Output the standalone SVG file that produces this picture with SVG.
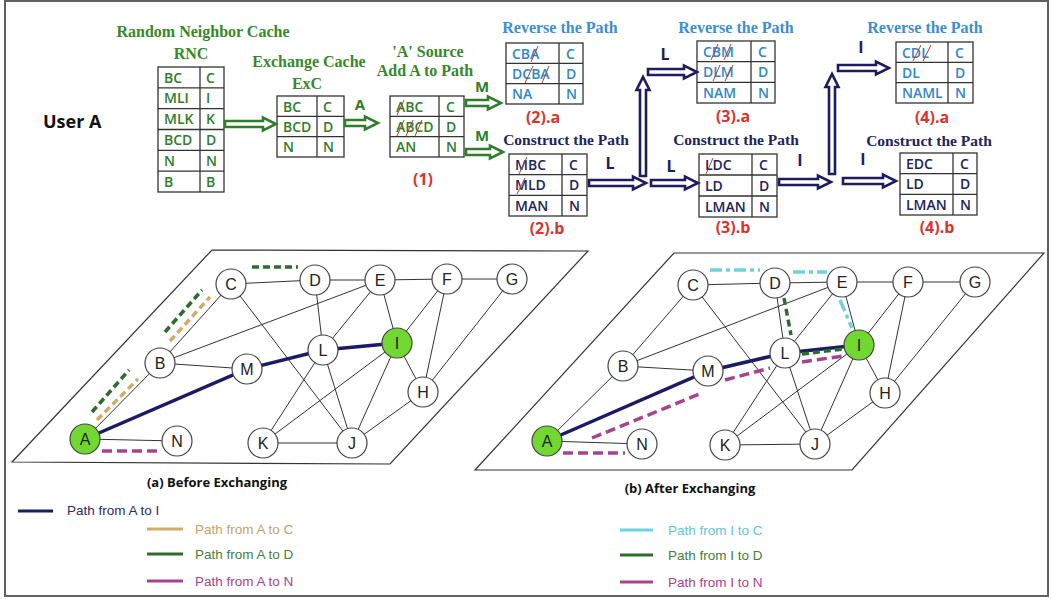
<svg xmlns="http://www.w3.org/2000/svg" width="1052" height="599" viewBox="0 0 1052 599">
<style>
.tg{font-family:"Liberation Serif",serif;font-weight:bold;font-size:16px;fill:#35892b;text-anchor:middle}
.tb{font-family:"Liberation Serif",serif;font-weight:bold;font-size:16px;fill:#3b8ed4;text-anchor:middle}
.tn{font-family:"Liberation Serif",serif;font-weight:bold;font-size:15.5px;fill:#22225e;text-anchor:middle}
.c{font-family:"Open Sans","Liberation Sans",sans-serif;font-weight:600;font-size:14px}
.cg{fill:#2f7d2a}.cb{fill:#2f86cc}.cn{fill:#22225e}
.tbl{fill:#fff;stroke:#333;stroke-width:1.3}
.tl{stroke:#333;stroke-width:1.3}
.sl{stroke:#c0392b;stroke-width:1}
.red{font-family:"Open Sans","Liberation Sans",sans-serif;font-weight:bold;font-size:16px;fill:#d9342b;text-anchor:middle}
.lblg{font-family:"Open Sans","Liberation Sans",sans-serif;font-weight:bold;font-size:15px;fill:#2f7d2a;text-anchor:middle}
.lbln{font-family:"Open Sans","Liberation Sans",sans-serif;font-weight:bold;font-size:16px;fill:#1c1c5e;text-anchor:middle}
.ag{fill:#fff;stroke:#2f7d2a;stroke-width:2.6}
.an{fill:#fff;stroke:#1c1c5e;stroke-width:2.6}
.e{stroke:#333;stroke-width:1}
.nav{stroke:#1c1c64;stroke-width:3.5;stroke-linecap:round}
.nd circle{fill:#fff;stroke:#444;stroke-width:1.2}
.nd circle.gr{fill:#72d831}
.nd text{font-family:"Liberation Sans",Arial,sans-serif;font-size:16px;fill:#222;text-anchor:middle}
.dt{stroke:#d4aa6a;stroke-width:3.5;stroke-dasharray:7 4;fill:none}
.dg{stroke:#2e6b2e;stroke-width:3.5;stroke-dasharray:7 4;fill:none}
.dm{stroke:#a8428e;stroke-width:3.5;stroke-dasharray:10 5;fill:none}
.dc{stroke:#6dd3dd;stroke-width:3.5;stroke-dasharray:12 4 4 4;fill:none}
.leg{font-family:"Liberation Sans",Arial,sans-serif;font-size:13.5px}
.cap{font-family:"Open Sans","Liberation Sans",sans-serif;font-weight:bold;font-size:13px;fill:#111;text-anchor:middle}
.ua{font-family:"Open Sans","Liberation Sans",sans-serif;font-weight:bold;font-size:18px;fill:#111}
.pg{fill:none;stroke:#333;stroke-width:1.2}
</style>
<rect x="5" y="1" width="1043" height="595" fill="#fff" stroke="#606060" stroke-width="2"/>

<text class="ua" x="43" y="128">User A</text>

<!-- titles -->
<text class="tg" x="203" y="37">Random Neighbor Cache</text>
<text class="tg" x="191" y="59">RNC</text>
<text class="tg" x="309" y="67">Exchange Cache</text>
<text class="tg" x="307" y="89">ExC</text>
<text class="tg" x="428" y="57">'A' Source</text>
<text class="tg" x="425" y="76">Add A to Path</text>
<text class="tb" x="560" y="33">Reverse the Path</text>
<text class="tn" x="566" y="145">Construct the Path</text>
<text class="tb" x="736" y="33">Reverse the Path</text>
<text class="tn" x="736" y="145">Construct the Path</text>
<text class="tb" x="925" y="33">Reverse the Path</text>
<text class="tn" x="929" y="146">Construct the Path</text>

<text class="red" x="423" y="185">(1)</text>
<text class="red" x="543" y="123">(2).a</text>
<text class="red" x="547" y="234">(2).b</text>
<text class="red" x="733" y="122">(3).a</text>
<text class="red" x="733" y="233">(3).b</text>
<text class="red" x="932" y="123">(4).a</text>
<text class="red" x="937" y="233">(4).b</text>

<!-- tables -->
<g id="rnc">
<rect class="tbl" x="158" y="67" width="66" height="125"/>
<line class="tl" x1="200" y1="67" x2="200" y2="192"/>
<line class="tl" x1="158" y1="87.8" x2="224" y2="87.8"/>
<line class="tl" x1="158" y1="108.7" x2="224" y2="108.7"/>
<line class="tl" x1="158" y1="129.5" x2="224" y2="129.5"/>
<line class="tl" x1="158" y1="150.3" x2="224" y2="150.3"/>
<line class="tl" x1="158" y1="171.2" x2="224" y2="171.2"/>
<g class="c cg">
<text x="164" y="82.5">BC</text><text x="206" y="82.5">C</text>
<text x="164" y="103.3">MLI</text><text x="206" y="103.3">I</text>
<text x="164" y="124.2">MLK</text><text x="206" y="124.2">K</text>
<text x="164" y="145">BCD</text><text x="206" y="145">D</text>
<text x="164" y="165.8">N</text><text x="206" y="165.8">N</text>
<text x="164" y="186.7">B</text><text x="206" y="186.7">B</text>
</g>
</g>

<g id="exc">
<rect class="tbl" x="277" y="96" width="67" height="61"/>
<line class="tl" x1="317" y1="96" x2="317" y2="157"/>
<line class="tl" x1="277" y1="116.3" x2="344" y2="116.3"/>
<line class="tl" x1="277" y1="136.7" x2="344" y2="136.7"/>
<g class="c cg">
<text x="283" y="111.5">BC</text><text x="323" y="111.5">C</text>
<text x="283" y="132">BCD</text><text x="323" y="132">D</text>
<text x="283" y="152">N</text><text x="323" y="152">N</text>
</g>
</g>

<g id="t1">
<rect class="tbl" x="390" y="96" width="74" height="61"/>
<line class="tl" x1="439" y1="96" x2="439" y2="157"/>
<line class="tl" x1="390" y1="116.3" x2="464" y2="116.3"/>
<line class="tl" x1="390" y1="136.7" x2="464" y2="136.7"/>
<g class="c cg">
<text x="396" y="111.5">ABC</text><text x="446" y="111.5">C</text>
<text x="396" y="132">ABCD</text><text x="446" y="132">D</text>
<text x="396" y="152">AN</text><text x="446" y="152">N</text>
</g>
<line class="sl" x1="397" y1="115" x2="404" y2="100"/>
<line class="sl" x1="397" y1="136" x2="404" y2="120"/>
<line class="sl" x1="406" y1="136" x2="413" y2="120"/>
<line class="sl" x1="415" y1="136" x2="422" y2="120"/>
</g>

<g id="t2a">
<rect class="tbl" x="506" y="43" width="77" height="61"/>
<line class="tl" x1="559" y1="43" x2="559" y2="104"/>
<line class="tl" x1="506" y1="63.3" x2="583" y2="63.3"/>
<line class="tl" x1="506" y1="83.7" x2="583" y2="83.7"/>
<g class="c cb">
<text x="512" y="58.5">CBA</text><text x="566" y="58.5">C</text>
<text x="512" y="79">DCBA</text><text x="566" y="79">D</text>
<text x="512" y="99">NA</text><text x="566" y="99">N</text>
</g>
<line class="sl" x1="531" y1="62" x2="538" y2="46"/>
<line class="sl" x1="525" y1="83" x2="533" y2="66"/>
<line class="sl" x1="542" y1="83" x2="549" y2="66"/>
</g>

<g id="t2b">
<rect class="tbl" x="509" y="154" width="78" height="62"/>
<line class="tl" x1="562" y1="154" x2="562" y2="216"/>
<line class="tl" x1="509" y1="174.7" x2="587" y2="174.7"/>
<line class="tl" x1="509" y1="195.3" x2="587" y2="195.3"/>
<g class="c cn">
<text x="515" y="169.5">MBC</text><text x="569" y="169.5">C</text>
<text x="515" y="190">MLD</text><text x="569" y="190">D</text>
<text x="515" y="210.5">MAN</text><text x="569" y="210.5">N</text>
</g>
<line class="sl" x1="519" y1="174" x2="527" y2="157"/>
<line class="sl" x1="517" y1="194" x2="525" y2="178"/>
</g>

<g id="t3a">
<rect class="tbl" x="697" y="41" width="78" height="62"/>
<line class="tl" x1="751" y1="41" x2="751" y2="103"/>
<line class="tl" x1="697" y1="61.7" x2="775" y2="61.7"/>
<line class="tl" x1="697" y1="82.3" x2="775" y2="82.3"/>
<g class="c cb">
<text x="703" y="56.5">CBM</text><text x="758" y="56.5">C</text>
<text x="703" y="77">DLM</text><text x="758" y="77">D</text>
<text x="703" y="97.5">NAM</text><text x="758" y="97.5">N</text>
</g>
<line class="sl" x1="711" y1="60" x2="718" y2="44"/>
<line class="sl" x1="724" y1="60" x2="731" y2="44"/>
<line class="sl" x1="713" y1="81" x2="720" y2="65"/>
<line class="sl" x1="725" y1="81" x2="733" y2="65"/>
</g>

<g id="t3b">
<rect class="tbl" x="699" y="154" width="78" height="63"/>
<line class="tl" x1="752" y1="154" x2="752" y2="217"/>
<line class="tl" x1="699" y1="175" x2="777" y2="175"/>
<line class="tl" x1="699" y1="196" x2="777" y2="196"/>
<g class="c cn">
<text x="705" y="169.5">LDC</text><text x="759" y="169.5">C</text>
<text x="705" y="190.5">LD</text><text x="759" y="190.5">D</text>
<text x="705" y="211.5">LMAN</text><text x="759" y="211.5">N</text>
</g>
<line class="sl" x1="706" y1="174" x2="713" y2="158"/>
</g>

<g id="t4a">
<rect class="tbl" x="896" y="42" width="77" height="61"/>
<line class="tl" x1="948" y1="42" x2="948" y2="103"/>
<line class="tl" x1="896" y1="62.3" x2="973" y2="62.3"/>
<line class="tl" x1="896" y1="82.7" x2="973" y2="82.7"/>
<g class="c cb">
<text x="902" y="57.5">CDL</text><text x="955" y="57.5">C</text>
<text x="902" y="78">DL</text><text x="955" y="78">D</text>
<text x="902" y="98">NAML</text><text x="955" y="98">N</text>
</g>
<line class="sl" x1="913" y1="61" x2="921" y2="45"/>
<line class="sl" x1="923" y1="61" x2="931" y2="45"/>
</g>

<g id="t4b">
<rect class="tbl" x="900" y="153" width="77" height="62"/>
<line class="tl" x1="953" y1="153" x2="953" y2="215"/>
<line class="tl" x1="900" y1="173.7" x2="977" y2="173.7"/>
<line class="tl" x1="900" y1="194.3" x2="977" y2="194.3"/>
<g class="c cn">
<text x="906" y="168.5">EDC</text><text x="960" y="168.5">C</text>
<text x="906" y="189">LD</text><text x="960" y="189">D</text>
<text x="906" y="209.5">LMAN</text><text x="960" y="209.5">N</text>
</g>
</g>

<!-- top connectors -->
<g id="top-connectors">
<polygon class="ag" points="225,121 263,121 263,117.5 276,124 263,130.5 263,127 225,127"/>
<polygon class="ag" points="345,120 365,120 365,116.5 378,123 365,129.5 365,126 345,126"/>
<polygon class="ag" points="466,100 488,100 488,96.5 501,103 488,109.5 488,106 466,106"/>
<polygon class="ag" points="466,149 490,149 490,145.5 503,152 490,158.5 490,155 466,155"/>
<polygon class="an" points="589,180 633,180 633,176.5 646,183 633,189.5 633,186 589,186"/>
<polygon class="an" points="640,176 640,90 636.5,90 643,77 649.5,90 646,90 646,176"/>
<polygon class="an" points="648,69 684,69 684,65.5 697,72 684,78.5 684,75 648,75"/>
<polygon class="an" points="651,180 685,180 685,176.5 698,183 685,189.5 685,186 651,186"/>
<polygon class="an" points="779,179 818,179 818,175.5 831,182 818,188.5 818,185 779,185"/>
<polygon class="an" points="829,174 829,87 825.5,87 832,74 838.5,87 835,87 835,174"/>
<polygon class="an" points="838,65 876,65 876,61.5 889,68 876,74.5 876,71 838,71"/>
<polygon class="an" points="843,178 883,178 883,174.5 896,181 883,187.5 883,184 843,184"/>
<text class="lblg" x="360" y="110">A</text>
<text class="lblg" x="482" y="92">M</text>
<text class="lblg" x="482" y="141">M</text>
<text class="lbln" x="610" y="169">L</text>
<text class="lbln" x="665" y="60">L</text>
<text class="lbln" x="671" y="172">L</text>
<text class="lbln" x="800" y="166">I</text>
<text class="lbln" x="861" y="53">I</text>
<text class="lbln" x="863" y="165">I</text>
</g>

<!-- graph frames -->
<polygon class="pg" points="212,250 588,251 390,464 12,462"/>
<polygon class="pg" points="674,253 1044,253 852,470 475,470"/>

<!-- graph a connectors -->
<g id="edges-a">
<line class="e" x1="85" y1="439" x2="160" y2="363"/>
<line class="e" x1="85" y1="439" x2="177" y2="441"/>
<line class="e" x1="160" y1="363" x2="231" y2="284"/>
<line class="e" x1="160" y1="363" x2="247" y2="369"/>
<line class="e" x1="160" y1="363" x2="380" y2="280"/>
<line class="e" x1="231" y1="284" x2="315" y2="280"/>
<line class="e" x1="231" y1="284" x2="352" y2="443"/>
<line class="e" x1="315" y1="280" x2="380" y2="280"/>
<line class="e" x1="315" y1="280" x2="323" y2="350"/>
<line class="e" x1="380" y1="280" x2="447" y2="279"/>
<line class="e" x1="447" y1="279" x2="512" y2="279"/>
<line class="e" x1="380" y1="280" x2="323" y2="350"/>
<line class="e" x1="380" y1="280" x2="397" y2="343"/>
<line class="e" x1="447" y1="279" x2="397" y2="343"/>
<line class="e" x1="447" y1="279" x2="423" y2="392"/>
<line class="e" x1="512" y1="279" x2="423" y2="392"/>
<line class="e" x1="323" y1="350" x2="263" y2="443"/>
<line class="e" x1="323" y1="350" x2="352" y2="443"/>
<line class="e" x1="397" y1="343" x2="263" y2="443"/>
<line class="e" x1="397" y1="343" x2="352" y2="443"/>
<line class="e" x1="397" y1="343" x2="423" y2="392"/>
<line class="e" x1="423" y1="392" x2="352" y2="443"/>
<line class="e" x1="263" y1="443" x2="352" y2="443"/>
<polyline class="nav" fill="none" points="85,439 247,369 323,350 397,343"/>
<line class="dt" x1="97" y1="420" x2="138" y2="379"/>
<line class="dt" x1="170" y1="341" x2="210" y2="297"/>
<line class="dg" x1="92" y1="412" x2="129" y2="370"/>
<line class="dg" x1="165" y1="332" x2="202" y2="290"/>
<line class="dg" x1="252" y1="267" x2="298" y2="267"/>
<line class="dm" x1="102" y1="451" x2="162" y2="451"/>
</g>

<!-- graph b connectors -->
<g id="edges-b">
<line class="e" x1="547" y1="441" x2="623" y2="366"/>
<line class="e" x1="547" y1="441" x2="642" y2="444"/>
<line class="e" x1="623" y1="366" x2="693" y2="285"/>
<line class="e" x1="623" y1="366" x2="708" y2="371"/>
<line class="e" x1="623" y1="366" x2="842" y2="282"/>
<line class="e" x1="693" y1="285" x2="775" y2="283"/>
<line class="e" x1="693" y1="285" x2="815" y2="444"/>
<line class="e" x1="775" y1="283" x2="842" y2="282"/>
<line class="e" x1="775" y1="283" x2="785" y2="353"/>
<line class="e" x1="842" y1="282" x2="908" y2="282"/>
<line class="e" x1="908" y1="282" x2="975" y2="282"/>
<line class="e" x1="842" y1="282" x2="785" y2="353"/>
<line class="e" x1="842" y1="282" x2="859" y2="345"/>
<line class="e" x1="908" y1="282" x2="859" y2="345"/>
<line class="e" x1="908" y1="282" x2="885" y2="393"/>
<line class="e" x1="975" y1="282" x2="885" y2="393"/>
<line class="e" x1="785" y1="353" x2="725" y2="445"/>
<line class="e" x1="785" y1="353" x2="815" y2="444"/>
<line class="e" x1="859" y1="345" x2="725" y2="445"/>
<line class="e" x1="859" y1="345" x2="815" y2="444"/>
<line class="e" x1="859" y1="345" x2="885" y2="393"/>
<line class="e" x1="885" y1="393" x2="815" y2="444"/>
<line class="e" x1="725" y1="445" x2="815" y2="444"/>
<polyline class="nav" fill="none" points="547,441 708,371 785,353 859,345"/>
<line class="dc" x1="710" y1="270" x2="760" y2="270"/>
<line class="dc" x1="793" y1="272" x2="827" y2="272"/>
<line class="dc" x1="840" y1="300" x2="852" y2="328"/>
<line class="dg" x1="784" y1="298" x2="791" y2="335"/>
<line class="dg" x1="802" y1="354" x2="843" y2="349"/>
<line class="dm" x1="563" y1="453" x2="625" y2="453"/>
<line class="dm" x1="592" y1="438" x2="702" y2="393"/>
<line class="dm" x1="725" y1="380" x2="770" y2="368"/>
<line class="dm" x1="802" y1="362" x2="843" y2="356"/>
</g>

<!-- graph a nodes -->
<g id="a-A" class="nd"><circle class="gr" cx="85" cy="439" r="15"/><text x="85" y="445">A</text></g>
<g id="a-N" class="nd"><circle cx="177" cy="441" r="15"/><text x="177" y="447">N</text></g>
<g id="a-B" class="nd"><circle cx="160" cy="363" r="15"/><text x="160" y="369">B</text></g>
<g id="a-M" class="nd"><circle cx="247" cy="369" r="15"/><text x="247" y="375">M</text></g>
<g id="a-C" class="nd"><circle cx="231" cy="284" r="15"/><text x="231" y="290">C</text></g>
<g id="a-D" class="nd"><circle cx="315" cy="280" r="15"/><text x="315" y="286">D</text></g>
<g id="a-E" class="nd"><circle cx="380" cy="280" r="15"/><text x="380" y="286">E</text></g>
<g id="a-F" class="nd"><circle cx="447" cy="279" r="15"/><text x="447" y="285">F</text></g>
<g id="a-G" class="nd"><circle cx="512" cy="279" r="15"/><text x="512" y="285">G</text></g>
<g id="a-L" class="nd"><circle cx="323" cy="350" r="15"/><text x="323" y="356">L</text></g>
<g id="a-I" class="nd"><circle class="gr" cx="397" cy="343" r="15"/><text x="397" y="349">I</text></g>
<g id="a-H" class="nd"><circle cx="423" cy="392" r="15"/><text x="423" y="398">H</text></g>
<g id="a-K" class="nd"><circle cx="263" cy="443" r="15"/><text x="263" y="449">K</text></g>
<g id="a-J" class="nd"><circle cx="352" cy="443" r="15"/><text x="352" y="449">J</text></g>

<!-- graph b nodes -->
<g id="b-A" class="nd"><circle class="gr" cx="547" cy="441" r="15"/><text x="547" y="447">A</text></g>
<g id="b-N" class="nd"><circle cx="642" cy="444" r="15"/><text x="642" y="450">N</text></g>
<g id="b-B" class="nd"><circle cx="623" cy="366" r="15"/><text x="623" y="372">B</text></g>
<g id="b-M" class="nd"><circle cx="708" cy="371" r="15"/><text x="708" y="377">M</text></g>
<g id="b-C" class="nd"><circle cx="693" cy="285" r="15"/><text x="693" y="291">C</text></g>
<g id="b-D" class="nd"><circle cx="775" cy="283" r="15"/><text x="775" y="289">D</text></g>
<g id="b-E" class="nd"><circle cx="842" cy="282" r="15"/><text x="842" y="288">E</text></g>
<g id="b-F" class="nd"><circle cx="908" cy="282" r="15"/><text x="908" y="288">F</text></g>
<g id="b-G" class="nd"><circle cx="975" cy="282" r="15"/><text x="975" y="288">G</text></g>
<g id="b-L" class="nd"><circle cx="785" cy="353" r="15"/><text x="785" y="359">L</text></g>
<g id="b-I" class="nd"><circle class="gr" cx="859" cy="345" r="15"/><text x="859" y="351">I</text></g>
<g id="b-H" class="nd"><circle cx="885" cy="393" r="15"/><text x="885" y="399">H</text></g>
<g id="b-K" class="nd"><circle cx="725" cy="445" r="15"/><text x="725" y="451">K</text></g>
<g id="b-J" class="nd"><circle cx="815" cy="444" r="15"/><text x="815" y="450">J</text></g>

<!-- captions and legend -->
<text class="cap" x="217" y="487">(a) Before Exchanging</text>
<text class="cap" x="690" y="493">(b) After Exchanging</text>
<g id="legend">
<line x1="18" y1="511" x2="53" y2="511" stroke="#1c1c64" stroke-width="3"/>
<text class="leg" x="67" y="515" fill="#2b2b66">Path from A to I</text>
<line x1="147" y1="529" x2="183" y2="529" stroke="#d4aa6a" stroke-width="3"/>
<text class="leg" x="195" y="534" fill="#c9a06a">Path from A to C</text>
<line x1="147" y1="554" x2="183" y2="554" stroke="#2e6b2e" stroke-width="3"/>
<text class="leg" x="195" y="559" fill="#3f7f3f">Path from A to D</text>
<line x1="147" y1="581" x2="183" y2="581" stroke="#a8428e" stroke-width="3"/>
<text class="leg" x="195" y="586" fill="#a8428e">Path from A to N</text>
<line x1="620" y1="530" x2="653" y2="530" stroke="#6dd3dd" stroke-width="3"/>
<text class="leg" x="668" y="535" fill="#5cc8d8">Path from I to C</text>
<line x1="620" y1="555" x2="653" y2="555" stroke="#2e6b2e" stroke-width="3"/>
<text class="leg" x="668" y="560" fill="#3f7f3f">Path from I to D</text>
<line x1="620" y1="582" x2="653" y2="582" stroke="#a8428e" stroke-width="3"/>
<text class="leg" x="668" y="587" fill="#a8428e">Path from I to N</text>
</g>
</svg>
